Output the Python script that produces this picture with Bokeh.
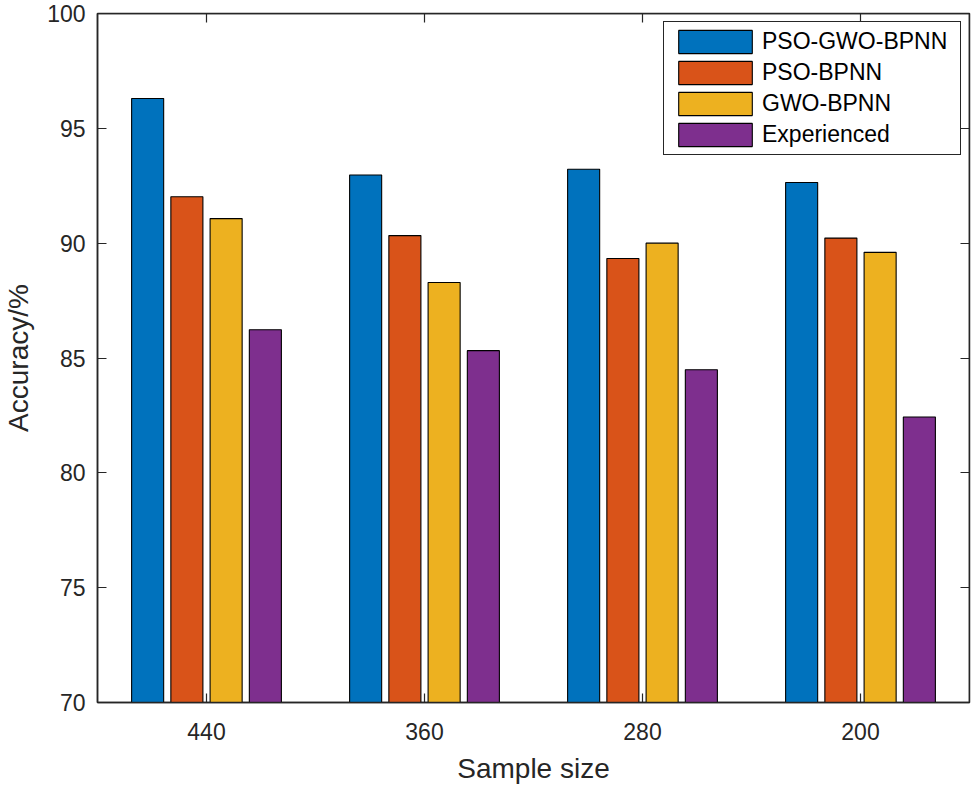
from bokeh.plotting import figure
from bokeh.models import (ColumnDataSource, FactorRange, Range1d, LinearAxis,
                          CategoricalAxis, FixedTicker, Legend, LegendItem,
                          CustomLabelingPolicy)
from bokeh.transform import dodge
from bokeh.embed import file_html
from bokeh.resources import INLINE

# ---- data ----
sample_sizes = ["440", "360", "280", "200"]
pso_gwo_bpnn = [96.30, 92.97, 93.22, 92.64]
pso_bpnn = [92.02, 90.33, 89.33, 90.22]
gwo_bpnn = [91.07, 88.29, 90.00, 89.60]
experienced = [86.23, 85.32, 84.49, 82.43]
series_names = ["PSO-GWO-BPNN", "PSO-BPNN", "GWO-BPNN", "Experienced"]
y_ticks = [70, 75, 80, 85, 90, 95, 100]
y_min, y_max = 70, 100

# ---- style ----
colors = ["#0072BD", "#D95319", "#EDB120", "#7E2F8E"]
offsets = [-0.27, -0.09, 0.09, 0.27]
bar_w = 0.147
AX = "#262626"
FONT = "Liberation Sans"

src = ColumnDataSource(dict(sample=sample_sizes, s0=pso_gwo_bpnn, s1=pso_bpnn,
                            s2=gwo_bpnn, s3=experienced))

p = figure(width=975, height=788,
           x_range=FactorRange(*sample_sizes, range_padding=0),
           y_range=Range1d(y_min, y_max),
           output_backend="svg", toolbar_location=None,
           min_border_left=95, min_border_right=6,
           min_border_top=13, min_border_bottom=86)

renderers = []
for i, col in enumerate(["s0", "s1", "s2", "s3"]):
    r = p.vbar(x=dodge("sample", offsets[i], range=p.x_range), top=col, bottom=0,
               width=bar_w, source=src, fill_color=colors[i],
               line_color="black", line_width=1.1)
    renderers.append(r)

p.xgrid.grid_line_color = None
p.ygrid.grid_line_color = None
p.outline_line_color = AX
p.outline_line_width = 1.5
p.background_fill_color = "white"
p.border_fill_color = "white"

# bottom axis
xa = p.xaxis[0]
xa.axis_label = "Sample size"
xa.axis_label_text_font = FONT
xa.axis_label_text_font_size = "28px"
xa.axis_label_text_font_style = "normal"
xa.axis_label_text_color = AX
xa.axis_label_standoff = 10
xa.major_label_text_font = FONT
xa.major_label_text_font_size = "23px"
xa.major_label_text_color = AX
xa.major_label_standoff = 20
xa.major_tick_in = 9
xa.major_tick_out = 0
xa.major_tick_line_color = AX
xa.major_tick_line_width = 1.2
xa.axis_line_color = AX
xa.axis_line_width = 1.5

# left axis
ya = p.yaxis[0]
ya.ticker = FixedTicker(ticks=y_ticks)
ya.axis_label = "Accuracy/%"
ya.axis_label_text_font = FONT
ya.axis_label_text_font_size = "28px"
ya.axis_label_text_font_style = "normal"
ya.axis_label_text_color = AX
ya.axis_label_standoff = 10
ya.major_label_text_font = FONT
ya.major_label_text_font_size = "23px"
ya.major_label_text_color = AX
ya.major_label_standoff = 12
ya.major_tick_in = 9
ya.major_tick_out = 0
ya.minor_tick_line_color = None
ya.major_tick_line_color = AX
ya.major_tick_line_width = 1.2
ya.axis_line_color = AX
ya.axis_line_width = 1.5

# label policy that hides every label (tick-only mirror axes of the box)
no_labels = CustomLabelingPolicy(code="""
    const all = [...indices]
    for (const i of all) indices.unset(i)
    return indices
""")

# top axis (ticks only)
top_ax = CategoricalAxis(major_label_text_font_size="0px", major_label_standoff=0,
                         major_label_policy=no_labels, fixed_location=y_max,
                         major_tick_in=9, major_tick_out=0,
                         major_tick_line_color=AX, major_tick_line_width=1.2,
                         axis_line_color=AX, axis_line_width=1.5)
p.add_layout(top_ax, "above")

# right axis (ticks only)
right_ax = LinearAxis(ticker=FixedTicker(ticks=y_ticks),
                      major_label_text_font_size="0px", major_label_standoff=0,
                      major_label_policy=no_labels, fixed_location=len(sample_sizes),
                      major_tick_in=9, major_tick_out=0, minor_tick_line_color=None,
                      major_tick_line_color=AX, major_tick_line_width=1.2,
                      axis_line_color=AX, axis_line_width=1.5)
p.add_layout(right_ax, "right")

# legend
items = [LegendItem(label=series_names[i], renderers=[renderers[i]]) for i in range(4)]
legend = Legend(items=items, location="top_right", margin=8,
                border_line_color=AX, border_line_width=1.2, border_line_alpha=1.0,
                background_fill_color="white", background_fill_alpha=1.0,
                padding=5, spacing=2, glyph_width=92, glyph_height=29,
                label_height=29, label_width=193, label_standoff=1,
                label_text_font=FONT, label_text_font_size="23px",
                label_text_color="black")
p.add_layout(legend)

open("out.html", "w").write(file_html(p, INLINE))
